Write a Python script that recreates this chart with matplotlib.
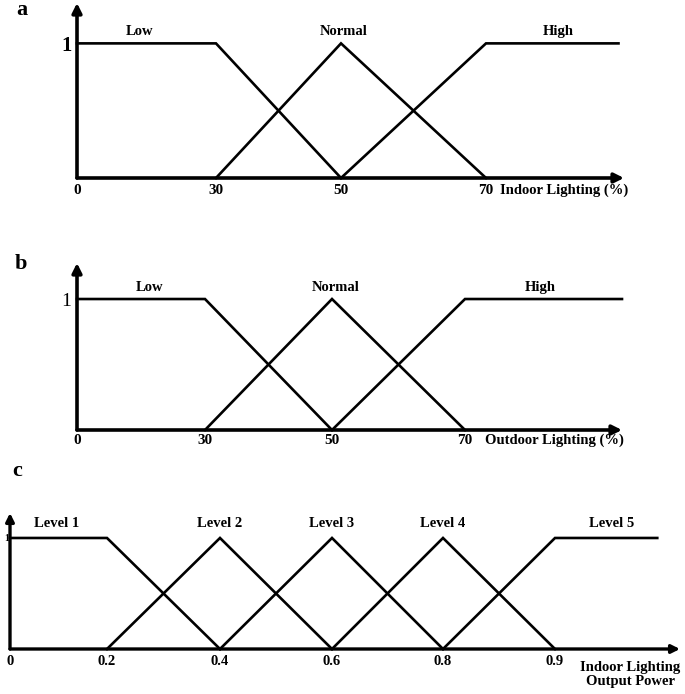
import numpy as np
import matplotlib
matplotlib.use("Agg")
import matplotlib.pyplot as plt

plt.rcParams["font.family"] = ["Liberation Serif", "DejaVu Serif"]
plt.rcParams["font.weight"] = "bold"

W, H = 685, 694

# ── Panel a: indoor lighting membership functions ──────────────
a_ticks = [0, 30, 50, 70]
a_low_x, a_low_y = [0, 30, 50], [1, 1, 0]
a_norm_x, a_norm_y = [30, 50, 70], [0, 1, 0]
a_high_x, a_high_y = [50, 70, 94], [0, 1, 1]
a_names = ["Low", "Normal", "High"]
a_name_x = [13.5, 50.3, 83]

# ── Panel b: outdoor lighting membership functions ─────────────
b_ticks = [0, 30, 50, 70]
b_low_x, b_low_y = [0, 30, 50], [1, 1, 0]
b_norm_x, b_norm_y = [30, 50, 70], [0, 1, 0]
b_high_x, b_high_y = [50, 70, 95], [0, 1, 1]
b_names = ["Low", "Normal", "High"]
b_name_x = [17, 50.5, 82]

# ── Panel c: output power levels ───────────────────────────────
c_ticks = [0, 0.2, 0.4, 0.6, 0.8, 0.9]
c_tick_labels = ["0", "0.2", "0.4", "0.6", "0.8", "0.9"]
c_levels_x = [[0, 0.2, 0.4], [0.2, 0.4, 0.6], [0.4, 0.6, 0.8],
              [0.6, 0.8, 0.9], [0.8, 0.9, 0.99]]
c_levels_y = [[1, 1, 0], [0, 1, 0], [0, 1, 0], [0, 1, 0], [0, 1, 1]]
c_names = ["Level 1", "Level 2", "Level 3", "Level 4", "Level 5"]
c_name_x = [0.097, 0.4, 0.6, 0.8, 0.95]


def px_axes(fig, x0, x1, y_top, y_bot):
    """Add axes given pixel box (origin top-left)."""
    return fig.add_axes([x0 / W, 1 - y_bot / H, (x1 - x0) / W, (y_bot - y_top) / H])


def drawn_scale(ax, knots_data, knots_px):
    # the sketch is not drawn to a linear scale, so follow its spacing
    fwd = lambda v: np.interp(v, knots_data, knots_px)
    inv = lambda p: np.interp(p, knots_px, knots_data)
    ax.set_xscale("function", functions=(fwd, inv))


def setup(ax, xmax, ymax, lw_axis=2.6, head=14):
    ax.set_xlim(0, xmax)
    ax.set_ylim(0, ymax)
    for s in ax.spines.values():
        s.set_visible(False)
    arrow = dict(arrowstyle="-|>", lw=lw_axis, color="black",
                 mutation_scale=head, shrinkA=0, shrinkB=0)
    ax.annotate("", xy=(xmax, 0), xytext=(0, 0), arrowprops=arrow,
                annotation_clip=False)
    ax.annotate("", xy=(0, ymax), xytext=(0, 0), arrowprops=arrow,
                annotation_clip=False)
    ax.tick_params(length=0)


fig = plt.figure(figsize=(W / 100, H / 100), dpi=100)
LW = 1.9

# panel a
ax = px_axes(fig, 77, 624, 3, 178)
drawn_scale(ax, [0, 30, 50, 70, 95], [77, 216, 341, 486, 624])
setup(ax, 95, 1.3)
for xs, ys in [(a_low_x, a_low_y), (a_norm_x, a_norm_y), (a_high_x, a_high_y)]:
    ax.plot(xs, ys, color="black", lw=LW, clip_on=False, solid_joinstyle="miter")
for name, x in zip(a_names, a_name_x):
    ax.text(x, 1.085, name, ha="center", va="center", fontsize=10.5)
ax.set_xticks(a_ticks, [str(t) for t in a_ticks], fontsize=11)
ax.set_yticks([1], ["1"], fontsize=15)
ax.tick_params(axis="x", pad=4)
ax.tick_params(axis="y", pad=4)
fig.text(500 / W, 1 - 190 / H, "Indoor Lighting (%)", ha="left", va="center", fontsize=10.5)
fig.text(16 / W, 1 - 15 / H, "a", ha="left", va="baseline", fontsize=16)

# panel b
ax = px_axes(fig, 77, 622, 263, 430)
drawn_scale(ax, [0, 30, 50, 70, 95], [77, 205, 332, 465, 622])
setup(ax, 95, 1.275)
for xs, ys in [(b_low_x, b_low_y), (b_norm_x, b_norm_y), (b_high_x, b_high_y)]:
    ax.plot(xs, ys, color="black", lw=LW, clip_on=False, solid_joinstyle="miter")
for name, x in zip(b_names, b_name_x):
    ax.text(x, 1.085, name, ha="center", va="center", fontsize=10.5)
ax.set_xticks(b_ticks, [str(t) for t in b_ticks], fontsize=11)
ax.set_yticks([1], ["1"], fontsize=14, fontweight="normal")
ax.tick_params(axis="x", pad=3)
ax.tick_params(axis="y", pad=4)
fig.text(485 / W, 1 - 440 / H, "Outdoor Lighting (%)", ha="left", va="center", fontsize=10.5)
fig.text(15 / W, 1 - 269 / H, "b", ha="left", va="baseline", fontsize=16)

# panel c
ax = px_axes(fig, 10, 680, 513, 649)
drawn_scale(ax, [0, 0.2, 0.4, 0.6, 0.8, 0.9, 1.01], [10, 107, 220, 332, 443, 555, 680])
setup(ax, 1.01, 1.225, lw_axis=2.4, head=12)
for xs, ys in zip(c_levels_x, c_levels_y):
    ax.plot(xs, ys, color="black", lw=LW, clip_on=False, solid_joinstyle="miter")
for name, x in zip(c_names, c_name_x):
    ax.text(x, 1.13, name, ha="center", va="center", fontsize=10.5)
ax.set_xticks(c_ticks, c_tick_labels, fontsize=10.5)
ax.set_yticks([1], ["1"], fontsize=7)
ax.tick_params(axis="x", pad=4)
ax.tick_params(axis="y", pad=1)
fig.text(630 / W, 1 - 674 / H, "Indoor Lighting\nOutput Power", ha="center",
         va="center", fontsize=10.5, linespacing=1.1)
fig.text(12 / W, 1 - 476 / H, "c", ha="left", va="baseline", fontsize=16)

fig.savefig("out.png", dpi=100)
